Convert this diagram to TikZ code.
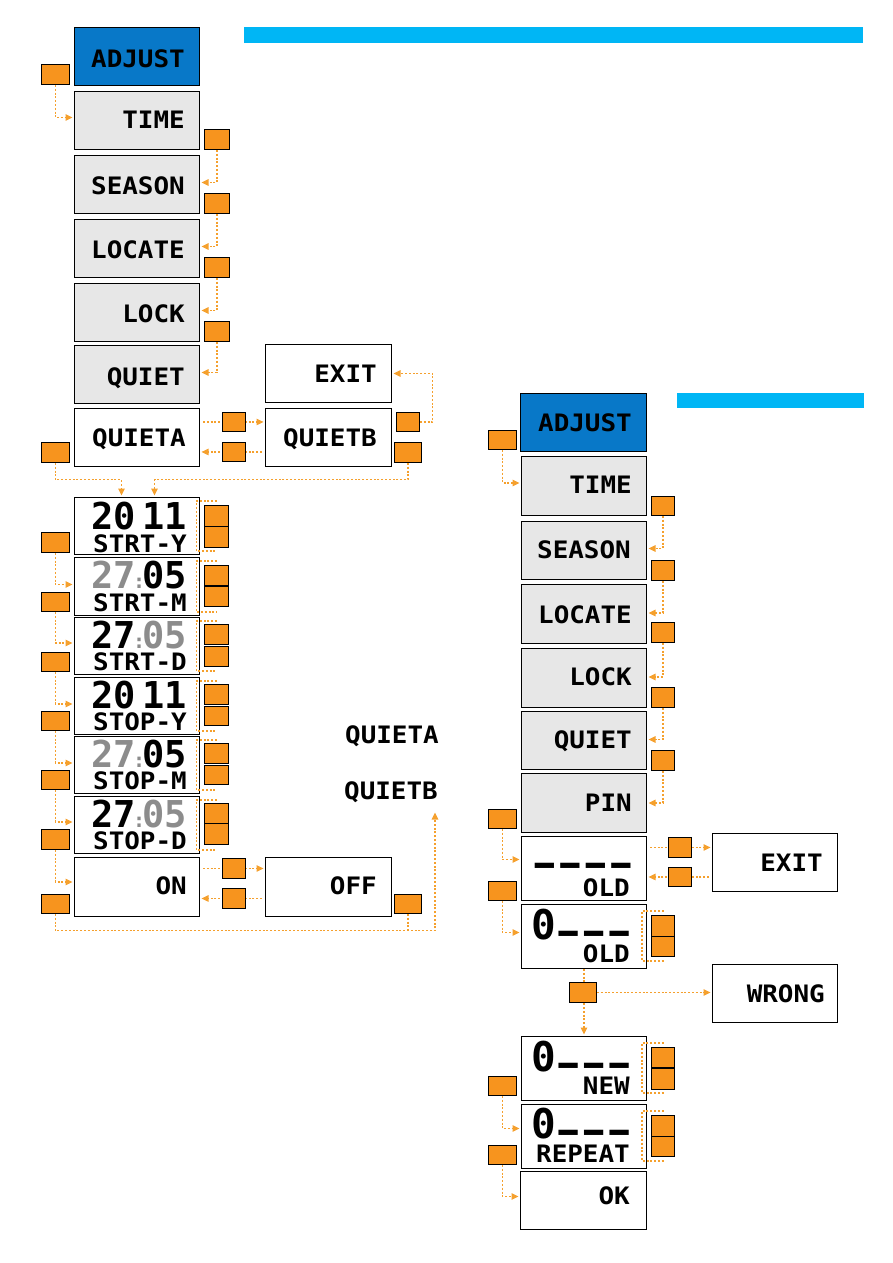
\documentclass[tikz,border=0pt]{standalone}
\usepackage{fontspec}
\usepackage{graphicx}
\usetikzlibrary{arrows.meta}
\newfontfamily\lcd[FakeStretch=1.08]{DejaVu Sans Mono}
\newfontfamily\lcdn{DejaVu Sans Mono}
\definecolor{cor}{RGB}{247,148,30}
\definecolor{cline}{RGB}{245,160,45}
\definecolor{adjblue}{RGB}{8,120,200}
\definecolor{barblue}{RGB}{0,182,245}
\definecolor{lcdgray}{RGB}{231,231,231}
\definecolor{dimgray}{RGB}{140,140,140}
\newcommand\pbar{\makebox[25.5pt][l]{\hspace{3pt}{\fontsize{31}{31}\selectfont\raisebox{-5.6pt}{━}}}}
\newcommand\dcol{\makebox[6pt]{\color{dimgray}\fontsize{20}{20}\selectfont :}}
\newcommand\mkscr[6]{\node[#1, minimum width=#5pt, minimum height=#6pt] (#2) at (#3,#4) {};}
\newcommand\mkbtn[5]{\node[btn, minimum width=#4pt, minimum height=#5pt] (#1) at (#2,#3) {};}
\pgfdeclarelayer{back}
\pgfdeclarelayer{mid}
\pgfsetlayers{back,mid,main}
\tikzset{
 scr/.style={draw=black, line width=1pt, fill=white, inner sep=0pt, anchor=north west},
 gscr/.style={scr, fill=lcdgray},
 bscr/.style={scr, fill=adjblue},
 btn/.style={draw=black, line width=0.9pt, fill=cor, inner sep=0pt, anchor=north west},
 lbl/.style={anchor=base east, inner sep=0pt, font=\lcd\bfseries\fontsize{24}{24}\selectfont},
 dig/.style={anchor=base east, inner sep=0pt, font=\lcdn\bfseries\fontsize{37}{37}\selectfont},
 pin/.style={anchor=base west, inner sep=0pt, font=\lcdn\bfseries\fontsize{41}{41}\selectfont},
 link/.style={draw=cline, line width=1.1pt, dash pattern=on 2pt off 1.8pt},
 conn/.style={link, -{Triangle[length=7pt,width=6.5pt]}, shorten >=1.5pt},
}
\begin{document}
\begin{tikzpicture}[x=1pt,y=-1pt]
\useasboundingbox (0,0) rectangle (893,1263);
\fill[barblue] (244,27) rectangle (863,43);
\fill[barblue] (677,393) rectangle (864,408);
\begin{pgfonlayer}{back}
% left column screens
\mkscr{bscr}{adj1}{74}{27}{125}{58}
\mkscr{gscr}{time1}{74}{91}{125}{58}
\mkscr{gscr}{season1}{74}{155}{125}{58}
\mkscr{gscr}{locate1}{74}{219}{125}{58}
\mkscr{gscr}{lock1}{74}{283}{125}{58}
\mkscr{gscr}{quiet1}{74}{345}{125}{58}
\mkscr{scr}{quieta}{74}{408}{125}{58}
\mkscr{scr}{exit1}{265}{344}{126}{58}
\mkscr{scr}{quietb}{265}{408}{126}{58}
\mkscr{scr}{y1}{74}{497}{125}{57}
\mkscr{scr}{m1}{74}{557}{125}{58}
\mkscr{scr}{d1}{74}{617}{125}{57}
\mkscr{scr}{y2}{74}{677}{125}{57}
\mkscr{scr}{m2}{74}{736}{125}{57}
\mkscr{scr}{d2}{74}{796}{125}{57}
\mkscr{scr}{on1}{74}{857}{125}{59}
\mkscr{scr}{off1}{265}{857}{126}{59}
% right column screens
\mkscr{bscr}{adj2}{520}{393}{126}{58}
\mkscr{gscr}{time2}{521}{456}{125}{59}
\mkscr{gscr}{season2}{521}{521}{125}{58}
\mkscr{gscr}{locate2}{521}{584}{125}{59}
\mkscr{gscr}{lock2}{521}{648}{125}{59}
\mkscr{gscr}{quiet2}{521}{711}{125}{58}
\mkscr{gscr}{pinb}{521}{773}{125}{59}
\mkscr{scr}{pold}{521}{836}{125}{64}
\mkscr{scr}{exit2}{712}{833}{125}{58}
\mkscr{scr}{p0old}{521}{904}{125}{64}
\mkscr{scr}{wrong}{712}{964}{125}{58}
\mkscr{scr}{pnew}{521}{1036}{125}{64}
\mkscr{scr}{prep}{521}{1104}{125}{64}
\mkscr{scr}{okb}{520}{1171}{126}{58}
\end{pgfonlayer}
% texts left
\node[lbl] (tadj1) at (185,67) {ADJUST};
\node[lbl] (ttime1) at (185,128) {TIME};
\node[lbl] (tseason1) at (185,194) {SEASON};
\node[lbl] (tlocate1) at (185,258) {LOCATE};
\node[lbl] (tlock1) at (185,322) {LOCK};
\node[lbl] (tquiet1) at (185,385) {QUIET};
\node[lbl] (tquieta) at (186,446) {QUIETA};
\node[lbl] (texit1) at (377,382) {EXIT};
\node[lbl] (tquietb) at (377,446) {QUIETB};
\node[dig] (dy1) at (187,529) {20\hspace{6pt}11};
\node[lbl] (ly1) at (187,552) {STRT-Y};
\node[dig] (dm1) at (187,588) {{\color{dimgray}27}\dcol05};
\node[lbl] (lm1) at (187,611) {STRT-M};
\node[dig] (dd1) at (187,648) {27\dcol{\color{dimgray}05}};
\node[lbl] (ld1) at (187,670) {STRT-D};
\node[dig] (dy2) at (187,708) {20\hspace{6pt}11};
\node[lbl] (ly2) at (187,730) {STOP-Y};
\node[dig] (dm2) at (187,767) {{\color{dimgray}27}\dcol05};
\node[lbl] (lm2) at (187,789) {STOP-M};
\node[dig] (dd2) at (187,827) {27\dcol{\color{dimgray}05}};
\node[lbl] (ld2) at (187,849) {STOP-D};
\node[lbl] (ton) at (187,894) {ON};
\node[lbl] (toff) at (377,894) {OFF};
\node[lbl] (qat) at (439,743) {QUIETA};
\node[lbl] (qbt) at (438,799) {QUIETB};
% texts right
\node[lbl] (tadj2) at (632,431) {ADJUST};
\node[lbl] (ttime2) at (632,493) {TIME};
\node[lbl] (tseason2) at (631,558) {SEASON};
\node[lbl] (tlocate2) at (632,623) {LOCATE};
\node[lbl] (tlock2) at (632,685) {LOCK};
\node[lbl] (tquiet2) at (632,748) {QUIET};
\node[lbl] (tpin) at (632,811) {PIN};
\node[pin] (bpold) at (532,871) {\pbar\pbar\pbar\pbar};
\node[lbl] (lpold) at (630,896) {OLD};
\node[lbl] (texit2) at (823,871) {EXIT};
\node[pin] (bp0old) at (531,939) {0\pbar\pbar\pbar};
\node[lbl] (lp0old) at (630,962) {OLD};
\node[lbl] (twrong) at (825,1002) {WRONG};
\node[pin] (bpnew) at (531,1071) {0\pbar\pbar\pbar};
\node[lbl] (lpnew) at (630,1094) {NEW};
\node[pin] (bprep) at (531,1138) {0\pbar\pbar\pbar};
\node[lbl] (lprep) at (630,1162) {REPEAT};
\node[lbl] (tok) at (630,1204) {OK};
% buttons left
\mkbtn{bl1}{41}{64}{28}{20}
\mkbtn{br1}{204}{129}{25}{20}
\mkbtn{br2}{204}{193}{25}{20}
\mkbtn{br3}{204}{257}{25}{20}
\mkbtn{br4}{204}{321}{25}{20}
\mkbtn{bm1}{222}{412}{23}{19}
\mkbtn{bm2}{222}{442}{23}{19}
\mkbtn{bq1}{396}{412}{23}{19}
\mkbtn{bq2}{394}{442}{27}{20}
\mkbtn{bl2}{41}{442}{28}{20}
\mkbtn{py1a}{204}{505}{24}{21}
\mkbtn{py1b}{204}{526}{24}{21}
\mkbtn{pm1a}{204}{565}{24}{20}
\mkbtn{pm1b}{204}{586}{24}{20}
\mkbtn{pd1a}{204}{624}{24}{20}
\mkbtn{pd1b}{204}{646}{24}{20}
\mkbtn{py2a}{204}{684}{24}{20}
\mkbtn{py2b}{204}{706}{24}{19}
\mkbtn{pm2a}{204}{743}{24}{20}
\mkbtn{pm2b}{204}{765}{24}{19}
\mkbtn{pd2a}{204}{803}{24}{20}
\mkbtn{pd2b}{204}{823}{24}{21}
\mkbtn{bl3}{41}{532}{28}{20}
\mkbtn{bl4}{41}{592}{28}{19}
\mkbtn{bl5}{41}{652}{28}{19}
\mkbtn{bl6}{41}{711}{28}{19}
\mkbtn{bl7}{41}{770}{28}{19}
\mkbtn{bl8}{41}{829}{28}{20}
\mkbtn{bl9}{41}{894}{28}{19}
\mkbtn{bm3}{222}{858}{23}{20}
\mkbtn{bm4}{222}{888}{23}{20}
\mkbtn{boff}{394}{894}{27}{19}
% buttons right
\mkbtn{rl1}{488}{430}{28}{19}
\mkbtn{rl2}{488}{809}{28}{19}
\mkbtn{rl3}{488}{881}{28}{19}
\mkbtn{rl4}{488}{1076}{28}{19}
\mkbtn{rl5}{488}{1145}{28}{19}
\mkbtn{rr1}{651}{496}{23}{19}
\mkbtn{rr2}{651}{560}{23}{20}
\mkbtn{rr3}{651}{622}{23}{20}
\mkbtn{rr4}{651}{687}{23}{20}
\mkbtn{rr5}{651}{750}{23}{20}
\mkbtn{rm1}{668}{837}{23}{20}
\mkbtn{rm2}{668}{867}{23}{19}
\mkbtn{po1a}{651}{915}{23}{21}
\mkbtn{po1b}{651}{936}{23}{20}
\mkbtn{pn1a}{651}{1047}{23}{20}
\mkbtn{pn1b}{651}{1068}{23}{21}
\mkbtn{pr1a}{651}{1115}{23}{21}
\mkbtn{pr1b}{651}{1136}{23}{20}
\mkbtn{rw}{569}{982}{27}{20}
\begin{pgfonlayer}{mid}
% left column connectors
\draw[conn] (bl1.south) |- ([yshift=3pt]time1.west);
\draw[conn] (br1.south) |- ([yshift=2pt]season1.east);
\draw[conn] (br2.south) |- ([yshift=2pt]locate1.east);
\draw[conn] (br3.south) |- ([yshift=2pt]lock1.east);
\draw[conn] (br4.south) |- ([yshift=2pt]quiet1.east);
\draw[conn, shorten <=3pt] (quieta.east |- bm1) -- (quietb.west |- bm1);
\draw[conn, shorten <=3pt] (quietb.west |- bm2) -- (quieta.east |- bm2);
\draw[conn] (bq1.east) -- ++(13,0) |- (exit1.east);
\draw[conn] (bl2.south) -- ++(0,17) -| ([xshift=-15.5pt]y1.north);
\draw[conn] (bq2.south) -- ++(0,17) -| ([xshift=17.5pt]y1.north);
\draw[conn] (bl3.south) |- ([yshift=2pt]m1.west);
\draw[conn] (bl4.south) |- ([yshift=3pt]d1.west);
\draw[conn] (bl5.south) |- ([yshift=2pt]y2.west);
\draw[conn] (bl6.south) |- ([yshift=2pt]m2.west);
\draw[conn] (bl7.south) |- ([yshift=3pt]d2.west);
\draw[conn] (bl8.south) |- ([yshift=5pt]on1.west);
\draw[conn, shorten <=3pt] (on1.east |- bm3) -- (off1.west |- bm3);
\draw[conn, shorten <=3pt] (off1.west |- bm4) -- (on1.east |- bm4);
\draw[conn] (bl9.south) -- ++(0,17) -| ([xshift=-3pt,yshift=-12pt]qbt.base east);
\draw[link] (boff.south) -- ++(0,17);
% brackets left
\foreach \b in {y1,m1,d1,y2,m2,d2}{
 \draw[link] ([xshift=17pt,yshift=-4pt]\b.north east) -- ([xshift=-3.5pt,yshift=-4pt]\b.north east) -- ([xshift=-3.5pt,yshift=4pt]\b.south east) -- ([xshift=17pt,yshift=4pt]\b.south east);
}
% right column connectors
\draw[conn] (rl1.south) |- ([yshift=3pt]time2.west);
\draw[conn] (rr1.south) |- ([yshift=2pt]season2.east);
\draw[conn] (rr2.south) |- ([yshift=1pt]locate2.east);
\draw[conn] (rr3.south) |- ([yshift=1pt]lock2.east);
\draw[conn] (rr4.south) |- ([yshift=1pt]quiet2.east);
\draw[conn] (rr5.south) |- ([yshift=0pt]pinb.east);
\draw[conn] (rl2.south) |- ([yshift=9pt]pold.west);
\draw[conn, shorten <=3pt] (pold.east |- rm1) -- (exit2.west |- rm1);
\draw[conn, shorten <=3pt] (exit2.west |- rm2) -- (pold.east |- rm2);
\draw[conn] (rl3.south) |- ([yshift=4pt]p0old.west);
\draw[conn] (p0old.south) -- (pnew.north);
\draw[conn] (rw.east) -- (wrong.west |- rw);
\draw[conn] (rl4.south) |- ([yshift=8pt]prep.west);
\draw[conn] (rl5.south) |- ([yshift=4pt]okb.west);
\foreach \b in {p0old,pnew,prep}{
 \draw[link] ([xshift=16.5pt,yshift=-7pt]\b.north east) -- ([xshift=-5pt,yshift=-7pt]\b.north east) -- ([xshift=-5pt,yshift=8pt]\b.south east) -- ([xshift=16.5pt,yshift=8pt]\b.south east);
}
\end{pgfonlayer}
\end{tikzpicture}
\end{document}
